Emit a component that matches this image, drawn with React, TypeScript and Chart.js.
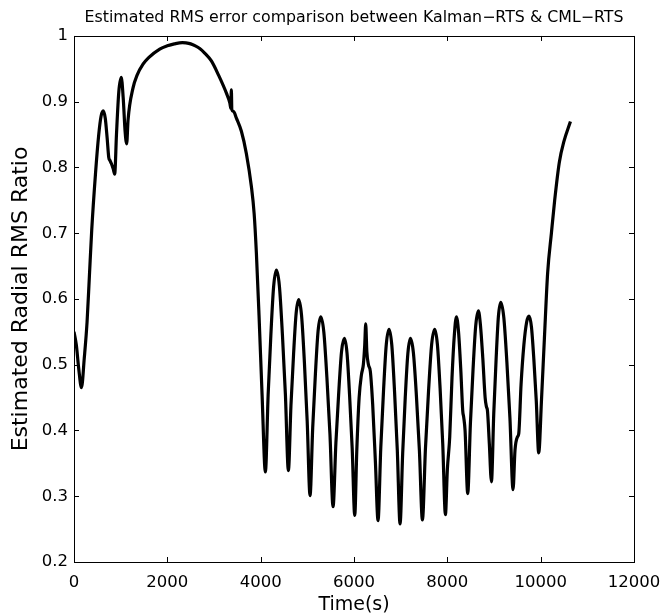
import React, { useEffect, useRef } from "react";
import { Chart, registerables } from "chart.js";

Chart.register(...registerables);

const titleText = "Estimated RMS error comparison between Kalman\u2212RTS & CML\u2212RTS";
const xLabel = "Time(s)";
const yLabel = "Estimated Radial RMS Ratio";

const xTicks = [0, 2000, 4000, 6000, 8000, 10000, 12000];
const yTicks = [0.2, 0.3, 0.4, 0.5, 0.6, 0.7, 0.8, 0.9, 1];

const times = [
  0, 50, 100, 160, 220, 280, 330, 380, 460, 530, 580, 625, 670, 710, 745, 767, 800, 840, 872, 910,
  960, 1013, 1055, 1095, 1129, 1158, 1265, 1350, 1479, 1600, 1837, 2000, 2150, 2323, 2400, 2500, 2600, 2694,
  2800, 2944, 3100, 3266, 3340, 3360, 3372, 3382, 3420, 3480, 3587, 3694, 3801, 3860, 3908, 3965, 4030,
  4101, 4160, 4219, 4278, 4337, 4401, 4466, 4530, 4594, 4649, 4705, 4760, 4815, 4876, 4937, 4997,
  5058, 5115, 5173, 5230, 5287, 5353, 5419, 5485, 5551, 5612, 5673, 5733, 5794, 5850, 5905, 5961,
  6016, 6060, 6110, 6160, 6200, 6230, 6251, 6275, 6310, 6350, 6400, 6460,
  6515, 6574, 6633, 6692, 6751, 6810, 6869, 6928, 6987, 7043, 7098, 7154, 7209, 7273, 7338, 7402,
  7466, 7532, 7598, 7664, 7730, 7787, 7845, 7902, 7959, 8000, 8051, 8100, 8150, 8194, 8240, 8290,
  8330, 8351, 8380, 8437, 8494, 8551, 8609, 8666, 8710, 8760, 8810, 8838, 8860, 8900, 8945, 8995,
  9045, 9094, 9144, 9210, 9276, 9342, 9408, 9450, 9500, 9530, 9580, 9640, 9700, 9751, 9803, 9855,
  9906, 9958, 10020, 10080, 10150, 10230, 10300, 10400, 10500, 10638,
];

const ratios = [
  0.55, 0.53, 0.495, 0.465, 0.51, 0.565, 0.635, 0.705, 0.79, 0.85, 0.878, 0.886, 0.875, 0.845, 0.815, 0.811, 0.806, 0.798, 0.79, 0.85,
  0.915, 0.937, 0.905, 0.855, 0.836, 0.872, 0.921, 0.94, 0.957, 0.967, 0.98, 0.985, 0.988, 0.99, 0.9895, 0.988, 0.985, 0.981,
  0.974, 0.962, 0.94, 0.913, 0.898, 0.89, 0.918, 0.888, 0.885, 0.875, 0.855, 0.821, 0.771, 0.73, 0.67, 0.575, 0.455,
  0.337, 0.454, 0.546, 0.619, 0.644, 0.62, 0.546, 0.455, 0.339, 0.438, 0.516, 0.578, 0.599, 0.575, 0.504, 0.414,
  0.301, 0.404, 0.486, 0.551, 0.573, 0.55, 0.481, 0.394, 0.284, 0.381, 0.458, 0.52, 0.54, 0.518, 0.454, 0.373,
  0.271, 0.37, 0.45, 0.485, 0.5, 0.53, 0.562, 0.52, 0.5, 0.49, 0.44, 0.35,
  0.263, 0.374, 0.461, 0.531, 0.554, 0.53, 0.459, 0.37, 0.258, 0.365, 0.45, 0.517, 0.54, 0.518, 0.452, 0.369,
  0.264, 0.374, 0.461, 0.531, 0.554, 0.531, 0.464, 0.379, 0.272, 0.34, 0.39, 0.48, 0.545, 0.573, 0.55, 0.49,
  0.43, 0.42, 0.4, 0.304, 0.41, 0.493, 0.56, 0.582, 0.56, 0.51, 0.45, 0.436, 0.43, 0.38, 0.322, 0.426,
  0.508, 0.573, 0.595, 0.572, 0.504, 0.418, 0.31, 0.37, 0.39, 0.395, 0.47, 0.53, 0.565, 0.574, 0.557, 0.507,
  0.445, 0.366, 0.45, 0.54, 0.64, 0.7, 0.75, 0.808, 0.84, 0.87,
];

const FONT = "'DejaVu Sans', 'Liberation Sans', Arial, sans-serif";

const boxPlugin = {
  id: "matlabBox",
  afterDatasetsDraw(chart: any) {
    const { ctx, chartArea } = chart;
    const { left, right, top, bottom } = chartArea;
    const xs = chart.scales.x;
    const ys = chart.scales.y;
    const L = 5;
    ctx.save();
    ctx.strokeStyle = "#000";
    ctx.lineWidth = 1;
    ctx.strokeRect(Math.round(left) + 0.5, Math.round(top) + 0.5, Math.round(right - left), Math.round(bottom - top));
    ctx.beginPath();
    xTicks.forEach((v) => {
      const px = Math.round(xs.getPixelForValue(v)) + 0.5;
      ctx.moveTo(px, bottom);
      ctx.lineTo(px, bottom - L);
      ctx.moveTo(px, top);
      ctx.lineTo(px, top + L);
    });
    yTicks.forEach((v) => {
      const py = Math.round(ys.getPixelForValue(v)) + 0.5;
      ctx.moveTo(left, py);
      ctx.lineTo(left + L, py);
      ctx.moveTo(right, py);
      ctx.lineTo(right - L, py);
    });
    ctx.stroke();
    ctx.restore();
  },
};

export default function App() {
  const ref = useRef<HTMLCanvasElement | null>(null);

  useEffect(() => {
    if (!ref.current) return;
    const data = times.map((t, i) => ({ x: t, y: ratios[i] }));
    const chart = new Chart(ref.current, {
      type: "line",
      data: {
        datasets: [
          {
            data,
            borderColor: "#000",
            borderWidth: 3.2,
            pointRadius: 0,
            fill: false,
            cubicInterpolationMode: "monotone",
          },
        ],
      },
      options: {
        animation: false,
        responsive: false,
        devicePixelRatio: 1,
        layout: { padding: 0 },
        plugins: {
          legend: { display: false },
          tooltip: { enabled: false },
          title: {
            display: true,
            fullSize: false,
            text: titleText,
            color: "#000",
            font: { family: FONT, size: 15.8, weight: "normal", lineHeight: 1.2 },
            padding: { top: 8, bottom: 9 },
          },
        },
        scales: {
          x: {
            type: "linear",
            min: 0,
            max: 12000,
            afterBuildTicks: (s: any) => {
              s.ticks = xTicks.map((v) => ({ value: v }));
            },
            ticks: {
              color: "#000",
              font: { family: FONT, size: 16.5 },
              padding: 3,
              maxRotation: 0,
              callback: (v: any) => String(v),
            },
            grid: { display: false },
            border: { display: false },
            title: {
              display: true,
              text: xLabel,
              color: "#000",
              font: { family: FONT, size: 19, lineHeight: 1 },
              padding: { top: 0, bottom: 1 },
            },
            afterFit: (s: any) => {
              s.height = 54;
            },
          },
          y: {
            type: "linear",
            min: 0.2,
            max: 1,
            afterBuildTicks: (s: any) => {
              s.ticks = yTicks.map((v) => ({ value: v }));
            },
            ticks: {
              color: "#000",
              font: { family: FONT, size: 16.5 },
              padding: 6,
              callback: (v: any) => String(Number(Number(v).toFixed(1))),
            },
            grid: { display: false, drawTicks: false },
            border: { display: false },
            title: {
              display: true,
              text: yLabel,
              color: "#000",
              font: { family: FONT, size: 22, lineHeight: 1 },
              padding: { top: 10, bottom: 0 },
            },
            afterFit: (s: any) => {
              s.width = 74;
            },
          },
          yRight: {
            type: "linear",
            position: "right",
            display: true,
            ticks: { display: false },
            grid: { display: false, drawTicks: false },
            border: { display: false },
            afterFit: (s: any) => {
              s.width = 32;
            },
          },
        },
      },
      plugins: [boxPlugin],
    } as any);
    return () => chart.destroy();
  }, []);

  return (
    <div style={{ position: "absolute", left: 0, top: 0, width: 666, height: 616, background: "#fff" }}>
      <canvas ref={ref} width={666} height={616} style={{ display: "block", width: 666, height: 616 }} />
    </div>
  );
}
